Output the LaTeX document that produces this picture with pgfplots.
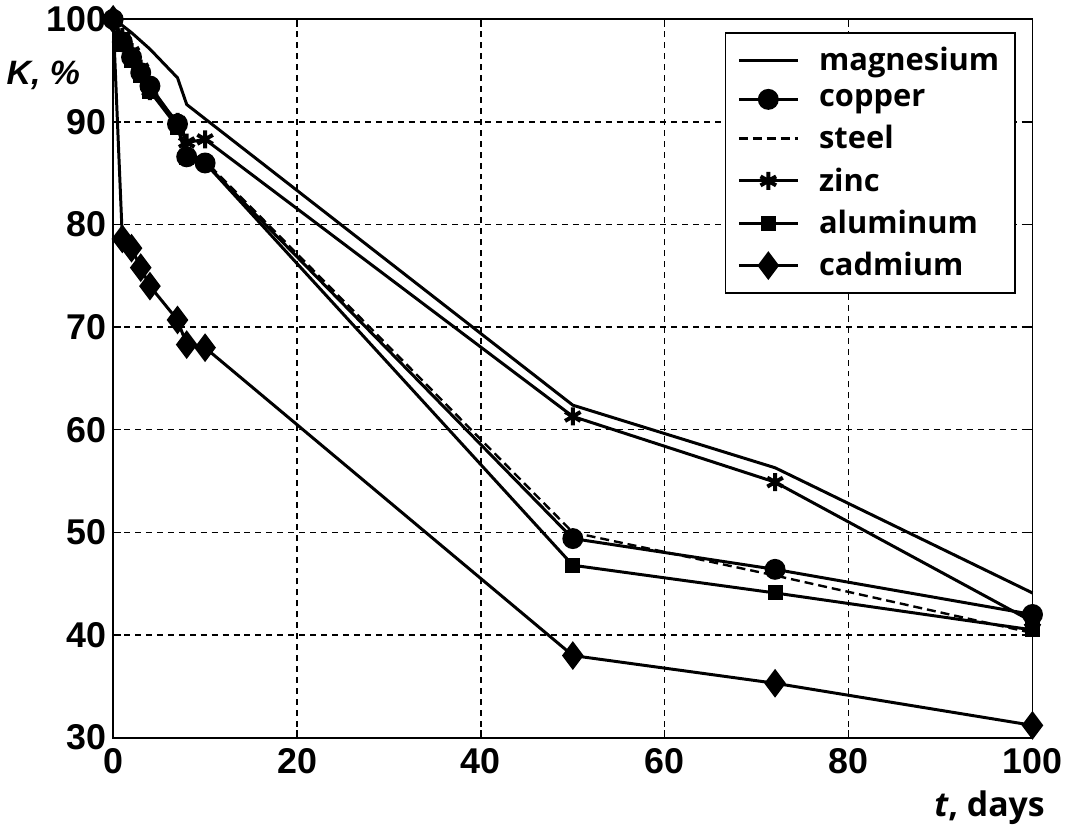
\documentclass[border=0pt]{standalone}
\usepackage{fontspec}
\setmainfont{Liberation Sans}
\newfontfamily\osans{Open Sans}
\usepackage{pgfplots}
\pgfplotsset{compat=1.18}

\begin{document}
\begin{tikzpicture}
\begin{axis}[
  scale only axis,
  width=462pt, height=361pt,
  xmin=0, xmax=100, ymin=30, ymax=100,
  xtick={0,20,...,100}, ytick={30,40,...,100},
  grid=major,
  grid style={black, line width=0.7pt, dash pattern=on 3pt off 2.5pt},
  axis line style={line width=1pt},
  tick style={black, line width=0.7pt},
  major tick length=4pt,
  tick align=inside,
  /pgf/number format/assume math mode=true,
  tick label style={font=\fontsize{18}{20}\selectfont\bfseries},
  xticklabel style={yshift=-2pt},
  legend cell align=left,
  legend style={at={(0.982,0.982)}, anchor=north east, draw=black, line width=0.8pt,
    font=\osans\bfseries\fontsize{15.5}{18}\selectfont,
    row sep=4pt, inner xsep=6pt, inner ysep=5pt},
  legend image code/.code={
    \draw[mark repeat=2,mark phase=2,#1] plot coordinates {(0cm,0cm) (0.52cm,0cm) (1.04cm,0cm)};
    \path (1.32cm,0cm);},
  clip=false,
]
\addplot[black, line width=1.5pt, no marks] coordinates {
  (0,100) (1,99.4) (2,98.7) (3,97.9) (4,97.1) (7,94.3) (8,91.7) (10,90.3) (50,62.4) (72,56.3) (100,44.1)
};
\addlegendentry{magnesium}

\addplot[black, line width=1.5pt, mark=*, mark size=4.5pt, mark options={solid}] coordinates {
  (0,100) (1,97.8) (2,96.3) (3,94.8) (4,93.5) (7,89.8) (8,86.6) (10,86.0) (50,49.4) (72,46.4) (100,42.0)
};
\addlegendentry{copper}

\addplot[black, no marks, line width=1.2pt, dash pattern=on 4.5pt off 2.5pt] coordinates {
  (0,100) (1,98.0) (2,96.5) (3,95.0) (4,93.5) (7,89.8) (8,87.0) (10,86.2) (50,50.0) (72,45.8) (100,40.2)
};
\addlegendentry{steel}

\addplot[black, line width=1.5pt, mark=asterisk, mark size=4.5pt, mark options={solid, line width=2pt}] coordinates {
  (0,100) (1,98.3) (2,96.8) (3,95.2) (4,93.0) (7,90.0) (8,88.0) (10,88.3) (50,61.3) (72,54.9) (100,41.3)
};
\addlegendentry{zinc}

\addplot[black, line width=1.5pt, mark=square*, mark size=3pt, mark options={solid}] coordinates {
  (0,100) (1,97.5) (2,96.0) (3,94.5) (4,93.0) (7,89.5) (8,86.5) (10,86.0) (50,46.8) (72,44.1) (100,40.5)
};
\addlegendentry{aluminum}

\addplot[black, line width=1.5pt, mark=diamond*, mark size=6pt, mark options={solid}] coordinates {
  (0,100) (1,78.6) (2,77.7) (3,75.8) (4,74.0) (7,70.7) (8,68.3) (10,68.0) (50,38.0) (72,35.3) (100,31.2)
};
\addlegendentry{cadmium}

\node[anchor=center, font=\fontsize{17}{20}\selectfont\bfseries\itshape] at (rel axis cs:-0.076,0.922) {K, \%};
\node[anchor=east, font=\osans\bfseries\fontsize{17}{20}\selectfont] at (rel axis cs:1.021,-0.097) {\textit{t}, days};
\end{axis}
\end{tikzpicture}
\end{document}
